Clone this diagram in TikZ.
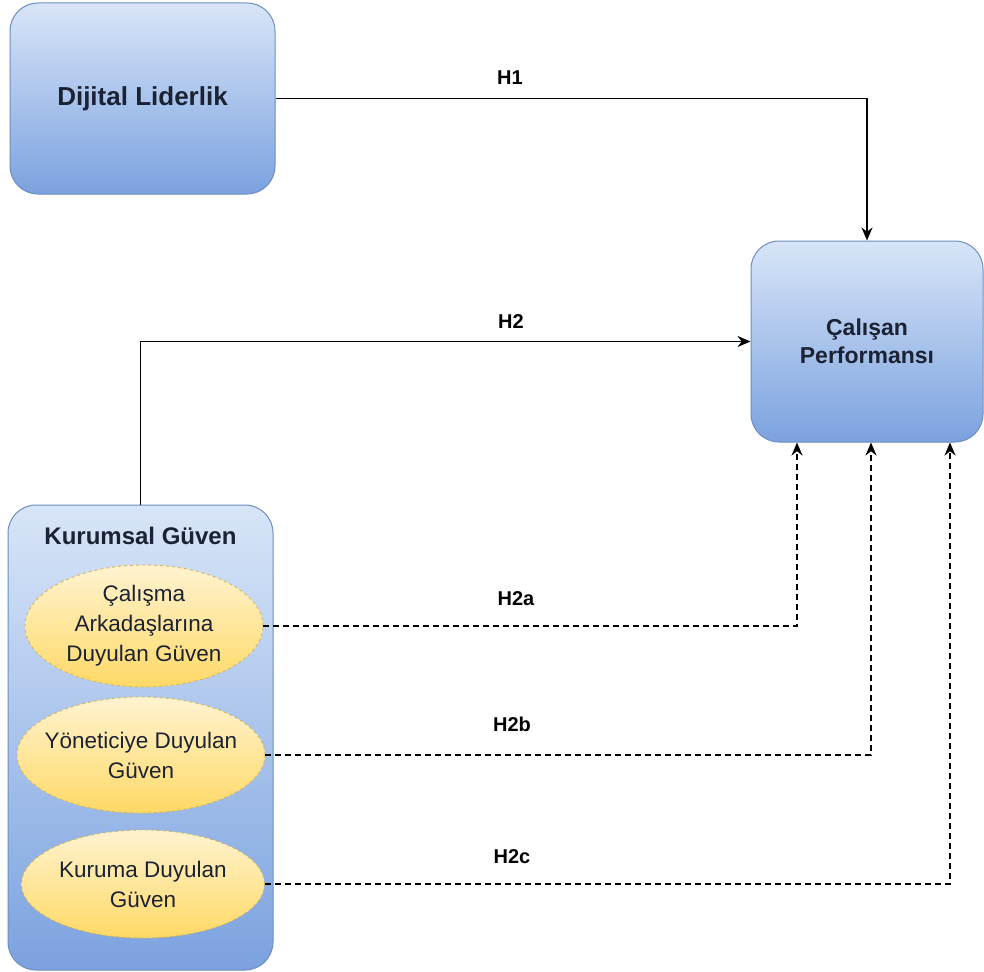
\documentclass[tikz,border=0pt]{standalone}
\usepackage{fontspec}
\setmainfont{Liberation Sans}
\usetikzlibrary{shapes.geometric,arrows.meta,positioning,calc}
\definecolor{boxtop}{HTML}{D8E5F8}
\definecolor{boxbot}{HTML}{7BA2DF}
\definecolor{boxline}{HTML}{6C8EBF}
\definecolor{trusttop}{HTML}{FFF3D0}
\definecolor{trustbot}{HTML}{FFD966}
\definecolor{trustline}{HTML}{D6B656}
\definecolor{ink}{HTML}{1B2233}

\begin{document}
\begin{tikzpicture}[x=1pt,y=-1pt,
  box/.style={draw=boxline, line width=1pt, rounded corners=28pt, top color=boxtop, bottom color=boxbot,
              text=ink, font=\fontsize{24}{28}\selectfont\bfseries, align=center, inner sep=0pt},
  trust/.style={ellipse, draw=trustline, dashed, line width=0.9pt, top color=trusttop, bottom color=trustbot,
                text=ink, font=\fontsize{22.5}{30}\selectfont, align=center, inner xsep=-20pt, inner ysep=-5pt},
  link/.style={line width=1.8pt, -{Stealth[length=13pt,width=11pt]}},
  dlink/.style={link, line width=1.6pt, dash pattern=on 6pt off 4pt},
  hyp/.style={font=\fontsize{20}{24}\selectfont\bfseries}]
\useasboundingbox (0,0) rectangle (984,971);
\node[box, minimum width=265pt, minimum height=191pt, font=\fontsize{26}{30}\selectfont\bfseries] (dijital) at (142.5,98.5) {Dijital Liderlik};
\node[box, minimum width=232pt, minimum height=201pt, font=\fontsize{23}{28}\selectfont\bfseries] (calisan) at (867,341.5) {Çalışan\\Performansı};
\node[box, minimum width=265pt, minimum height=465pt] (kurumsal) at (140.5,737.5) {};
\node[text=ink, font=\fontsize{24}{28}\selectfont\bfseries] (kurumsalad) at (140.5,536) {Kurumsal Güven};
\node[trust, minimum width=238pt, minimum height=122pt] (calisma) at (144,626) {Çalışma\\Arkadaşlarına\\Duyulan Güven};
\node[trust, minimum width=248pt, minimum height=116pt] (yonetici) at (141,755) {Yöneticiye Duyulan\\Güven};
\node[trust, minimum width=243pt, minimum height=108pt] (kurum) at (143,884) {Kuruma Duyulan\\Güven};

\draw[link] (dijital.east) -| (calisan.north);
\draw[link] (kurumsal.north) |- (calisan.west);
\draw[dlink] (calisma.east) -| ([xshift=-70pt]calisan.south);
\draw[dlink] (yonetici.east) -| ([xshift=4pt]calisan.south);
\draw[dlink] (kurum.east) -| ([xshift=83pt]calisan.south);

\node[hyp] (h1) at (510,78) {H1};
\node[hyp] (h2) at (511,322) {H2};
\node[hyp] (h2a) at (516,599) {H2a};
\node[hyp] (h2b) at (512,724) {H2b};
\node[hyp] (h2c) at (512,857) {H2c};
\end{tikzpicture}
\end{document}
